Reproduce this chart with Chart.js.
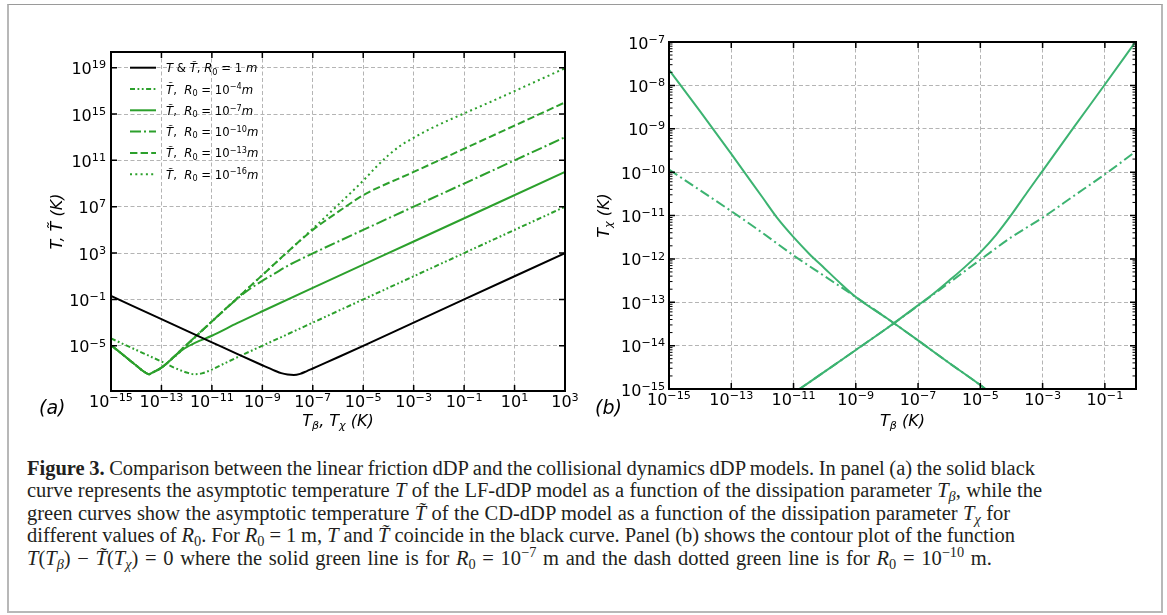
<!DOCTYPE html>
<html>
<head>
<meta charset="utf-8">
<script src="https://cdn.jsdelivr.net/npm/chart.js@4.4.1/dist/chart.umd.min.js"></script>
<style>
  html, body { margin: 0; padding: 0; background: #fff; }
  body { width: 1167px; height: 615px; position: relative; overflow: hidden; }
  #frame { position: absolute; left: 7px; top: 4px; width: 1152px; height: 606px;
           border: 2px solid #b8b8b8; border-top: 1px solid #9a9a9a; }
  #chartA { position: absolute; left: 0; top: 0; }
  #chartB { position: absolute; left: 590px; top: 0; }
  #caption { position: absolute; left: 27px; top: 457px; color: #231f20;
             font-family: "Liberation Serif", "Times New Roman", serif;
             font-size: 20.5px; line-height: 22.4px; }
  #caption div { white-space: nowrap; display: block; }
  #caption span.l { display: inline-block; }
  #caption sub, #caption sup { font-size: 70%; line-height: 0; }
  #caption sub { vertical-align: -0.25em; }
  #caption sup { vertical-align: 0.55em; }
</style>
</head>
<body>
<div id="frame"></div>
<canvas id="chartA" width="590" height="440"></canvas>
<canvas id="chartB" width="577" height="440"></canvas>
<div id="caption">
  <div><span class="l"><b>Figure 3.</b> Comparison between the linear friction dDP and the collisional dynamics dDP models. In panel (a) the solid black</span></div>
  <div><span class="l">curve represents the asymptotic temperature <i>T</i> of the LF-dDP model as a function of the dissipation parameter <i>T</i><sub><i>β</i></sub>, while the</span></div>
  <div><span class="l">green curves show the asymptotic temperature <i>T&#x303;</i> of the CD-dDP model as a function of the dissipation parameter <i>T</i><sub><i>χ</i></sub> for</span></div>
  <div><span class="l">different values of <i>R</i><sub>0</sub>. For <i>R</i><sub>0</sub> = 1 m, <i>T</i> and <i>T&#x303;</i> coincide in the black curve. Panel (b) shows the contour plot of the function</span></div>
  <div><span class="l"><i>T</i>(<i>T</i><sub><i>β</i></sub>) − <i>T&#x303;</i>(<i>T</i><sub><i>χ</i></sub>) = 0 where the solid green line is for <i>R</i><sub>0</sub> = 10<sup>−7</sup> m and the dash dotted green line is for <i>R</i><sub>0</sub> = 10<sup>−10</sup> m.</span></div>
</div>
<script>
// All values are log10 exponents.

// panel (a): T (black, LF-dDP) and T~ (green, CD-dDP) vs T_beta / T_chi
const A_X_TICKS = [-15, -13, -11, -9, -7, -5, -3, -1, 1, 3];
const A_Y_TICKS = [-5, -1, 3, 7, 11, 15, 19];

const BLACK_X = [-15, -13, -11, -10, -9, -8.5, -8.25, -8, -7.75, -7.5, -7.25, -7, -6.5, -6, -5, -3, -1, 1, 3];
const BLACK_Y = [-0.7, -2.7, -4.7, -5.7, -6.68, -7.15, -7.36, -7.48, -7.52, -7.42, -7.2, -6.96, -6.48, -5.99, -5.0, -3.0, -1.0, 1.0, 3.0];

const R4_X = [-15, -14, -13, -12.5, -12, -11.7, -11.4, -11, -10.5, -10, -8, -5, -1, 3];
const R4_Y = [-4.36, -5.36, -6.36, -6.88, -7.3, -7.45, -7.38, -7.05, -6.52, -6.0, -4.0, -1.0, 3.0, 7.0];

const R7_X = [-15, -14.5, -14, -13.7, -13.5, -13.3, -13, -12.5, -12.2, -12, -11.5, -11, -10, -9, -7, -3, 3];
const R7_Y = [-4.95, -5.82, -6.7, -7.22, -7.45, -7.25, -6.88, -5.95, -5.4, -5.12, -4.58, -4.13, -3.05, -2.02, 0.0, 4.0, 10.0];

const R10_X = [-15, -14.5, -14, -13.7, -13.5, -13.3, -13, -12, -11, -10.5, -10, -9.5, -9, -8.5, -8, -7, -5, -1, 3];
const R10_Y = [-4.95, -5.82, -6.7, -7.22, -7.45, -7.25, -6.88, -4.9, -2.9, -1.9, -0.95, -0.1, 0.6, 1.25, 1.9, 2.97, 5.0, 9.0, 13.0];

const R13_X = [-15, -14.5, -14, -13.7, -13.5, -13.3, -13, -12, -11, -10, -9, -8, -7.5, -7, -6.5, -6, -5.5, -5, -3, 3];
const R13_Y = [-4.95, -5.82, -6.7, -7.22, -7.45, -7.25, -6.88, -4.9, -2.9, -0.9, 1.1, 3.1, 4.08, 5.0, 5.8, 6.55, 7.3, 8.0, 10.0, 16.0];

const R16_X = [-15, -14.5, -14, -13.7, -13.5, -13.3, -13, -11, -9, -7, -6, -5, -4.5, -4, -3.5, -3, -2.5, -2, -1, 0, 3];
const R16_Y = [-4.95, -5.82, -6.7, -7.22, -7.45, -7.25, -6.88, -2.9, 1.1, 5.1, 7.15, 9.25, 10.4, 11.45, 12.3, 12.95, 13.55, 14.08, 15.05, 16.0, 18.95];

const A_LEGEND = [
  '*T* & *T\u0303*, *R*_{0} = 1 *m*',
  '*T\u0303*,  *R*_{0} = 10^{\u22124}*m*',
  '*T\u0303*,  *R*_{0} = 10^{\u22127}*m*',
  '*T\u0303*,  *R*_{0} = 10^{\u221210}*m*',
  '*T\u0303*,  *R*_{0} = 10^{\u221213}*m*',
  '*T\u0303*,  *R*_{0} = 10^{\u221216}*m*'
];

// panel (b): contour T(T_beta) - T~(T_chi) = 0, two branches per R0
const B_X_TICKS = [-15, -13, -11, -9, -7, -5, -3, -1];
const B_Y_TICKS = [-15, -14, -13, -12, -11, -10, -9, -8, -7];

const B7_DOWN_X = [-15, -14, -13, -12, -11.5, -11, -10.5, -10, -9.5, -9, -8, -7, -6, -5, -4.8];
const B7_DOWN_Y = [-7.64, -8.6, -9.58, -10.58, -11.08, -11.5, -11.88, -12.22, -12.56, -12.88, -13.37, -13.88, -14.4, -14.91, -15.02];
const B7_UP_X = [-10.85, -10, -9, -8, -7, -6.5, -6, -5.5, -5, -4.5, -4, -3.5, -3, -2, -1, 0];
const B7_UP_Y = [-15.02, -14.6, -14.1, -13.6, -13.07, -12.8, -12.5, -12.19, -11.85, -11.45, -10.98, -10.47, -9.97, -8.97, -7.98, -6.98];

const B10_DOWN_X = [-15, -14, -13, -12, -11, -10, -9, -8, -7, -6, -5, -4.8];
const B10_DOWN_Y = [-9.94, -10.42, -10.9, -11.4, -11.92, -12.4, -12.88, -13.37, -13.88, -14.4, -14.91, -15.02];
const B10_UP_X = [-10.85, -10, -9, -8, -7, -6, -5, -4, -3, -2, -1, 0];
const B10_UP_Y = [-15.02, -14.6, -14.1, -13.6, -13.08, -12.55, -12.02, -11.5, -11.05, -10.55, -10.05, -9.52];

const FONT = "'DejaVu Sans', sans-serif";
const GREEN_A = '#2ca02c';
const GREEN_B = '#3cb371';

function pts(xs, ys) {
  return xs.map((v, i) => ({ x: Math.pow(10, v), y: Math.pow(10, ys[i]) }));
}

function expLabel(e) {
  return '10^{' + String(e).replace('-', '\u2212') + '}';
}

// tiny markup: *...* italic, ^{..} superscript, _{..} subscript
function richParts(str) {
  const parts = [];
  let italic = false, buf = '', i = 0;
  const push = (text, shift) => { if (text) parts.push({ text, italic, shift }); };
  while (i < str.length) {
    const c = str[i];
    if (c === '*') { push(buf, 0); buf = ''; italic = !italic; i++; }
    else if ((c === '^' || c === '_') && str[i + 1] === '{') {
      push(buf, 0); buf = '';
      const end = str.indexOf('}', i);
      push(str.slice(i + 2, end), c === '^' ? 1 : -1);
      i = end + 1;
    } else { buf += c; i++; }
  }
  push(buf, 0);
  return parts;
}

function drawRich(ctx, str, x, y, size, align) {
  const parts = richParts(str);
  const fontOf = p => (p.italic ? 'italic ' : '') + (p.shift ? size * 0.7 : size) + 'px ' + FONT;
  let w = 0;
  parts.forEach(p => { ctx.font = fontOf(p); p.w = ctx.measureText(p.text).width; w += p.w; });
  let cx = align === 'center' ? x - w / 2 : align === 'right' ? x - w : x;
  ctx.textAlign = 'left';
  ctx.textBaseline = 'alphabetic';
  parts.forEach(p => {
    ctx.font = fontOf(p);
    const dy = p.shift > 0 ? -size * 0.36 : p.shift < 0 ? size * 0.2 : 0;
    ctx.fillText(p.text, cx, y + dy);
    cx += p.w;
  });
  return w;
}

// frame, inward ticks, tick labels, axis titles, panel letter, legend
function decor(cfg) {
  return {
    id: 'decor',
    afterDatasetsDraw(chart) {
      const { ctx, chartArea: a, scales: { x, y } } = chart;
      ctx.save();
      ctx.setLineDash([]);
      ctx.strokeStyle = '#000';
      ctx.lineWidth = 1.5;
      ctx.beginPath();
      cfg.xTicks.forEach(e => {
        const px = x.getPixelForValue(Math.pow(10, e));
        ctx.moveTo(px, a.bottom); ctx.lineTo(px, a.bottom - 6);
        ctx.moveTo(px, a.top); ctx.lineTo(px, a.top + 6);
      });
      cfg.yTicks.forEach(e => {
        const py = y.getPixelForValue(Math.pow(10, e));
        ctx.moveTo(a.left, py); ctx.lineTo(a.left + 6, py);
        ctx.moveTo(a.right, py); ctx.lineTo(a.right - 6, py);
      });
      ctx.stroke();
      if (cfg.minorY) {
        ctx.lineWidth = 1;
        ctx.beginPath();
        for (let d = cfg.yTicks[0]; d < cfg.yTicks[cfg.yTicks.length - 1]; d++) {
          for (let k = 2; k <= 9; k++) {
            const py = y.getPixelForValue(k * Math.pow(10, d));
            ctx.moveTo(a.left, py); ctx.lineTo(a.left + 3.5, py);
            ctx.moveTo(a.right, py); ctx.lineTo(a.right - 3.5, py);
          }
        }
        ctx.stroke();
      }
      ctx.lineWidth = 2;
      ctx.strokeRect(a.left, a.top, a.right - a.left, a.bottom - a.top);

      ctx.fillStyle = '#000';
      cfg.xTicks.forEach(e => {
        drawRich(ctx, expLabel(e), x.getPixelForValue(Math.pow(10, e)), a.bottom + 16, 16, 'center');
      });
      cfg.yTicks.forEach(e => {
        drawRich(ctx, expLabel(e), a.left - cfg.yPad, y.getPixelForValue(Math.pow(10, e)) + 6.5, 16, 'right');
      });
      drawRich(ctx, cfg.xTitle, (a.left + a.right) / 2, 426, 16, 'center');
      ctx.save();
      ctx.translate(cfg.yTitleX, (a.top + a.bottom) / 2);
      ctx.rotate(-Math.PI / 2);
      drawRich(ctx, cfg.yTitle, 0, 0, 16, 'center');
      ctx.restore();
      drawRich(ctx, cfg.panel, cfg.panelX, 414, 19, 'left');

      if (cfg.legend) {
        chart.data.datasets.forEach((ds, i) => {
          const ly = 67.7 + i * 21.3;
          ctx.strokeStyle = ds.borderColor;
          ctx.lineWidth = ds.borderWidth;
          ctx.setLineDash(ds.borderDash || []);
          ctx.beginPath();
          ctx.moveTo(130, ly); ctx.lineTo(156, ly);
          ctx.stroke();
          ctx.setLineDash([]);
          drawRich(ctx, cfg.legend[i], 166, ly + 4.5, 11.7, 'left');
        });
      }
      ctx.restore();
    }
  };
}

const GRID = { color: '#b4b4b4', lineWidth: 1, drawTicks: false };
const BORDER = { display: false, dash: [4, 2.5] };

function logAxis(min, max, ticks) {
  return {
    type: 'logarithmic', min, max, bounds: 'data',
    afterBuildTicks: s => { s.ticks = ticks.map(e => ({ value: Math.pow(10, e) })); },
    ticks: { display: false },
    grid: GRID,
    border: BORDER
  };
}

function baseOptions(padding, xAxis, yAxis) {
  return {
    responsive: false,
    animation: false,
    devicePixelRatio: 1,
    layout: { padding },
    plugins: { legend: { display: false }, tooltip: { enabled: false } },
    scales: { x: xAxis, y: yAxis }
  };
}

const lineDefaults = { borderWidth: 2, pointRadius: 0, fill: false, cubicInterpolationMode: 'monotone' };

new Chart(document.getElementById('chartA'), {
  type: 'line',
  data: {
    datasets: [
      { label: A_LEGEND[0], data: pts(BLACK_X, BLACK_Y), borderColor: '#000000', borderDash: [] },
      { label: A_LEGEND[1], data: pts(R4_X, R4_Y), borderColor: GREEN_A, borderDash: [5, 2.5, 1.8, 2.5, 1.8, 2.5] },
      { label: A_LEGEND[2], data: pts(R7_X, R7_Y), borderColor: GREEN_A, borderDash: [] },
      { label: A_LEGEND[3], data: pts(R10_X, R10_Y), borderColor: GREEN_A, borderDash: [11, 3, 2, 3] },
      { label: A_LEGEND[4], data: pts(R13_X, R13_Y), borderColor: GREEN_A, borderDash: [7.4, 3.2] },
      { label: A_LEGEND[5], data: pts(R16_X, R16_Y), borderColor: GREEN_A, borderDash: [2, 3.3] }
    ].map(d => Object.assign({}, lineDefaults, d))
  },
  options: baseOptions(
    { left: 111, top: 52, right: 25, bottom: 49 },
    logAxis(1e-15, 1e3, A_X_TICKS),
    logAxis(Math.pow(10, -8.9), Math.pow(10, 20.35), A_Y_TICKS)
  ),
  plugins: [decor({
    xTicks: A_X_TICKS, yTicks: A_Y_TICKS, minorY: false, yPad: 5,
    xTitle: '*T_{\u03b2}, T_{\u03c7} (K)*', yTitle: '*T, T\u0303 (K)*', yTitleX: 62,
    panel: '*(a)*', panelX: 39, legend: A_LEGEND
  })]
});

new Chart(document.getElementById('chartB'), {
  type: 'line',
  data: {
    datasets: [
      { label: 'R0 = 1e-7 (branch 1)', data: pts(B7_DOWN_X, B7_DOWN_Y), borderColor: GREEN_B, borderDash: [] },
      { label: 'R0 = 1e-7 (branch 2)', data: pts(B7_UP_X, B7_UP_Y), borderColor: GREEN_B, borderDash: [] },
      { label: 'R0 = 1e-10 (branch 1)', data: pts(B10_DOWN_X, B10_DOWN_Y), borderColor: GREEN_B, borderDash: [10, 3.5, 2, 3.5] },
      { label: 'R0 = 1e-10 (branch 2)', data: pts(B10_UP_X, B10_UP_Y), borderColor: GREEN_B, borderDash: [10, 3.5, 2, 3.5] }
    ].map(d => Object.assign({}, lineDefaults, d))
  },
  options: baseOptions(
    { left: 79, top: 42, right: 31, bottom: 51 },
    logAxis(1e-15, 1e0, B_X_TICKS),
    logAxis(1e-15, 1e-7, B_Y_TICKS)
  ),
  plugins: [decor({
    xTicks: B_X_TICKS, yTicks: B_Y_TICKS, minorY: true, yPad: 4,
    xTitle: '*T_{\u03b2} (K)*', yTitle: '*T_{\u03c7} (K)*', yTitleX: 18.5,
    panel: '*(b)*', panelX: 5, legend: null
  })]
});

// stretch caption lines to the widths they have in the figure
const LINE_ENDS = [1035, 1042, 1010, 1015, 992];
document.querySelectorAll('#caption span.l').forEach((el, i) => {
  const target = LINE_ENDS[i] - 27;
  const w = el.getBoundingClientRect().width;
  const spaces = (el.textContent.match(/ /g) || []).length;
  if (spaces) el.style.wordSpacing = ((target - w) / spaces).toFixed(2) + 'px';
});
</script>
</body>
</html>
